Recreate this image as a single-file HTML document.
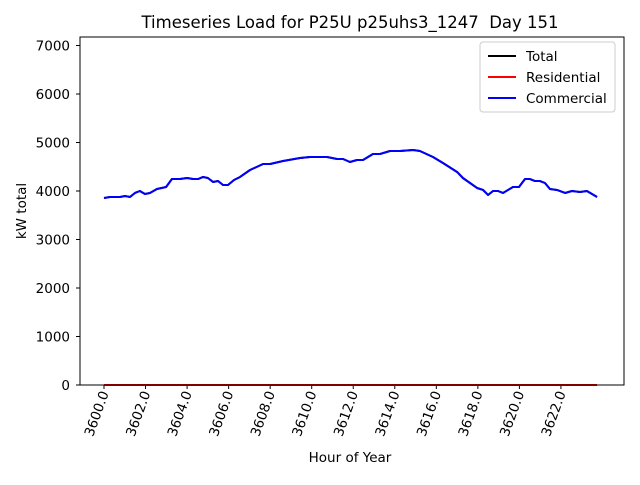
<!DOCTYPE html>
<html><head><meta charset="utf-8"><style>
body{margin:0;background:#fff;}
svg text{font-family:"DejaVu Sans","Liberation Sans",sans-serif;white-space:pre;}
</style></head><body>
<svg id="chart" width="640" height="480"></svg>
<script>
const hours=[3600.0,3600.29,3600.77,3601.01,3601.25,3601.49,3601.73,3601.97,3602.21,3602.55,3602.99,3603.27,3603.66,3604.0,3604.29,3604.53,3604.77,3605.0,3605.25,3605.49,3605.73,3605.97,3606.26,3606.55,3607.03,3607.66,3608.0,3608.62,3609.44,3609.92,3610.74,3611.22,3611.51,3611.84,3612.18,3612.47,3612.95,3613.29,3613.77,3614.25,3614.88,3615.21,3615.84,3616.32,3617.0,3617.28,3617.96,3618.25,3618.49,3618.73,3618.97,3619.21,3619.69,3619.98,3620.27,3620.51,3620.75,3620.99,3621.23,3621.47,3621.81,3622.2,3622.53,3622.92,3623.25,3623.74];
const commercial=[3856,3876,3876,3897,3876,3959,4000,3938,3959,4041,4082,4247,4247,4268,4247,4247,4289,4268,4186,4206,4124,4124,4227,4289,4433,4557,4557,4619,4680,4701,4701,4660,4660,4598,4639,4639,4763,4763,4825,4825,4845,4825,4701,4577,4392,4268,4062,4021,3918,4000,4000,3959,4082,4082,4247,4247,4206,4206,4165,4041,4021,3959,4000,3979,4000,3876];
const residential=hours.map(()=>0);
const total=commercial.slice();
const yTicks=[0,1000,2000,3000,4000,5000,6000,7000];
const xTicks=[3600,3602,3604,3606,3608,3610,3612,3614,3616,3618,3620,3622];
const L=80,R=624,T=37,B=385;
const xs=h=>104+(h-3600)*20.77;
const ys=v=>385-v*0.0485;
const svg=document.getElementById('chart');
const NS='http://www.w3.org/2000/svg';
function mk(tag,attrs,parent){const e=document.createElementNS(NS,tag);for(const k in attrs)e.setAttribute(k,attrs[k]);(parent||svg).appendChild(e);return e;}
let t=mk('text',{x:350,y:28,'text-anchor':'middle','font-size':'16.5'});t.textContent='Timeseries Load for P25U p25uhs3_1247\u00a0\u00a0Day 151';


yTicks.forEach(v=>{
 const y=ys(v);
 const l=mk('line',{x1:L-4,x2:L,y1:y,y2:y,stroke:'#000'});
 
 
 const tx=mk('text',{x:L-10,y:y+5,'text-anchor':'end','font-size':'13.5'});tx.textContent=v;
 
 
});
xTicks.forEach(h=>{
 const x=xs(h);
 const l=mk('line',{x1:x,x2:x,y1:B,y2:B+4,stroke:'#000'});
 
 
 const tx=mk('text',{x:x+5,y:B+8,'text-anchor':'end','font-size':'13.5',transform:`rotate(-70 ${x+5} ${B+8})`});tx.textContent=h.toFixed(1);
 
 
});
function series(vals,color,name){
 const p=mk('polyline',{points:hours.map((h,i)=>xs(h)+','+ys(vals[i])).join(' '),fill:'none',stroke:color,'stroke-width':2,'stroke-linejoin':'round'});
 
 
}
series(total,'#000','total-line');
series(residential,'#f00','residential-line');
series(commercial,'#00f','commercial-line');
const f=mk('rect',{x:L,y:T,width:R-L,height:B-T,fill:'none',stroke:'#000','stroke-width':1});


let yl=mk('text',{x:26,y:211,'text-anchor':'middle','font-size':'13.5',transform:'rotate(-90 26 211)'});yl.textContent='kW total';


let xl=mk('text',{x:350,y:462,'text-anchor':'middle','font-size':'13.5'});xl.textContent='Hour of Year';


const lg=mk('rect',{x:480,y:42,width:135,height:70,rx:3,fill:'#fff',stroke:'#ccc'});


[['Total','#000'],['Residential','#f00'],['Commercial','#00f']].forEach((e,i)=>{
 const y=56+i*21;
 const l=mk('line',{x1:488,x2:516,y1:y,y2:y,stroke:e[1],'stroke-width':2});
 
 
 const tx=mk('text',{x:526,y:y+5,'font-size':'13.5'});tx.textContent=e[0];
 
 
});
</script>
</body></html>
